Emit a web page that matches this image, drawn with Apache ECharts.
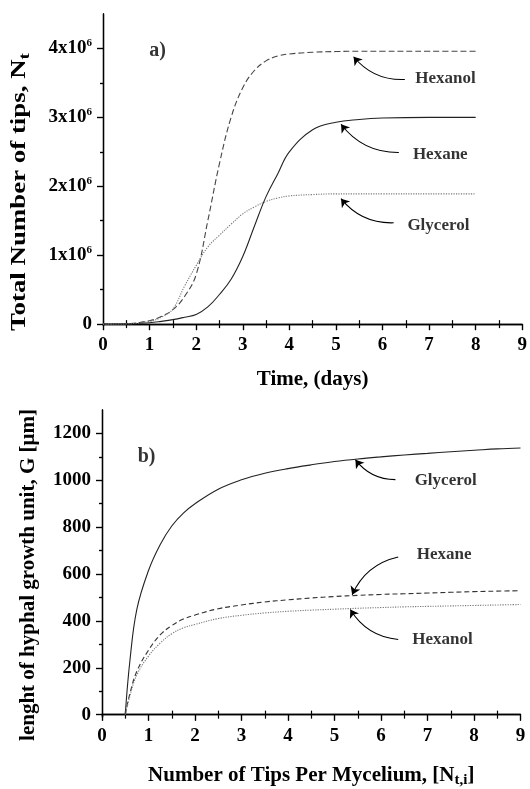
<!DOCTYPE html>
<html><head><meta charset="utf-8">
<script src="https://cdn.jsdelivr.net/npm/echarts@6/dist/echarts.min.js"></script>
<style>html,body{margin:0;padding:0;background:#fff}#c{width:530px;height:789px}</style>
</head><body><div id="c"></div>
<script>
// ---------- data (panel a: total number of tips, in units of 10^6) ----------
const timeDays  = [0,0.5,1,1.25,1.5,1.75,2,2.25,2.5,2.75,3,3.25,3.5,3.75,4,4.5,5,5.5,6,7,8];
const nHexanol  = [0,0.005,0.05,0.11,0.21,0.4,0.72,1.5,2.33,3.0,3.43,3.68,3.82,3.89,3.92,3.945,3.955,3.96,3.96,3.96,3.96];
const nHexane   = [0,0.003,0.02,0.04,0.065,0.1,0.14,0.25,0.43,0.65,0.98,1.42,1.85,2.18,2.5,2.82,2.93,2.97,2.99,3.0,3.0];
const nGlycerol = [0,0.004,0.04,0.1,0.22,0.55,0.85,1.12,1.29,1.45,1.6,1.7,1.78,1.83,1.86,1.88,1.89,1.89,1.89,1.89,1.89];
// ---------- data (panel b: length of hyphal growth unit, µm) ----------
const tipsPerMycelium = [0.5,0.6,0.75,1,1.25,1.5,1.75,2,2.5,3,3.5,4,4.5,5,5.5,6,6.5,7,7.5,8,8.5,9];
const gGlycerol = [0,230,450,615,725,805,860,900,962,1002,1030,1050,1066,1080,1091,1100,1108,1115,1122,1128,1134,1138];
const gHexane   = [0,90,185,275,340,380,408,425,452,468,481,490,498,504,509,513,516,519,522,525,527,529];
const gHexanol  = [0,80,170,250,305,345,370,385,410,424,434,441,446,450,454,457,460,462,464,466,468,470];
// ---------- ticks ----------
const xTicks = [0,1,2,3,4,5,6,7,8,9];
const xMinor = [0.5,1.5,2.5,3.5,4.5,5.5,6.5,7.5,8.5];
const yTopTicks = [0,1,2,3,4];
const yTopMinor = [0.5,1.5,2.5,3.5];
const yBotTicks = [0,200,400,600,800,1000,1200];
const yBotMinor = [100,300,500,700,900,1100];
// ---------- annotations (data coordinates) ----------
const notesA = [
  {name:'Hexanol',  at:[7.35,3.56], from:[6.48,3.55], to:[5.38,3.88]},
  {name:'Hexane',   at:[7.24,2.46], from:[6.35,2.49], to:[5.11,2.90]},
  {name:'Glycerol', at:[7.20,1.43], from:[6.24,1.47], to:[5.11,1.82]}
];
const notesB = [
  {name:'Glycerol', at:[7.39,999], from:[6.31,1003], to:[5.45,1088], bend:0.25},
  {name:'Hexane',   at:[7.36,681], from:[6.37,673],  to:[5.38,512],  bend:-0.25},
  {name:'Hexanol',  at:[7.32,321], from:[6.37,321],  to:[5.34,449],  bend:0.25}
];

const F = 'Liberation Serif';
const zip = (xs, ys) => xs.map((x,i)=>[x, ys[i]]);
const axLine = {show:true, lineStyle:{color:'#000', width:1.3}};
const tickStyle = {color:'#000', width:1.2};

function xAxes(grid){
  return [
    {gridIndex:grid, type:'value', position:'bottom', min:0, max:9, interval:1,
     axisLine:axLine, axisTick:{show:true, inside:false, length:6, lineStyle:tickStyle},
     axisLabel:{fontFamily:F, fontWeight:'bold', fontSize:19, color:'#000', margin:10},
     splitLine:{show:false}},
    {gridIndex:grid, type:'value', position:'bottom', min:0, max:9,
     axisLine:{show:false}, axisTick:{show:true, inside:true, length:4, customValues:xMinor, lineStyle:tickStyle},
     axisLabel:{show:false}, splitLine:{show:false}},
    {gridIndex:grid, type:'value', position:'top', min:0, max:9,
     axisLine:axLine, axisTick:{show:true, inside:true, length:6, customValues:xTicks, lineStyle:tickStyle},
     axisLabel:{show:false}, splitLine:{show:false}},
    {gridIndex:grid, type:'value', position:'top', min:0, max:9,
     axisLine:{show:false}, axisTick:{show:true, inside:true, length:4, customValues:xMinor, lineStyle:tickStyle},
     axisLabel:{show:false}, splitLine:{show:false}}
  ];
}
function yAxes(grid, min, max, major, minor, labelCfg){
  return [
    {gridIndex:grid, type:'value', position:'left', min, max,
     axisLine:axLine, axisTick:{show:true, inside:false, length:6, customValues:major, lineStyle:tickStyle},
     axisLabel:Object.assign({customValues:major, formatter:v=>String(v), fontFamily:F, fontWeight:'bold', fontSize:19, color:'#000', margin:11}, labelCfg||{}),
     splitLine:{show:false}},
    {gridIndex:grid, type:'value', position:'left', min, max,
     axisLine:{show:false}, axisTick:{show:true, inside:false, length:3, customValues:minor, lineStyle:tickStyle},
     axisLabel:{show:false}, splitLine:{show:false}},
    {gridIndex:grid, type:'value', position:'right', min, max,
     axisLine:axLine, axisTick:{show:true, inside:true, length:6, customValues:major, lineStyle:tickStyle},
     axisLabel:{show:false}, splitLine:{show:false}},
    {gridIndex:grid, type:'value', position:'right', min, max,
     axisLine:{show:false}, axisTick:{show:true, inside:true, length:3, customValues:minor, lineStyle:tickStyle},
     axisLabel:{show:false}, splitLine:{show:false}}
  ];
}

const xs = xAxes(0).concat(xAxes(1));
xs[0].name = 'Time, (days)';
xs[0].nameLocation = 'middle'; xs[0].nameGap = 44;
xs[0].nameTextStyle = {fontFamily:F, fontWeight:'bold', fontSize:21, color:'#000'};
xs[4].name = '{m|Number of Tips Per Mycelium, [N}{s|t,i}{m|]}';
xs[4].nameLocation = 'middle'; xs[4].nameGap = 46;
xs[4].nameTextStyle = {rich:{
  m:{fontFamily:F, fontWeight:'bold', fontSize:21, color:'#000'},
  s:{fontFamily:F, fontWeight:'bold', fontSize:15, color:'#000', verticalAlign:'bottom', padding:[10,0,0,0]}
}};

const ys = yAxes(0, -0.02, 4.5, yTopTicks, yTopMinor, {
  formatter: v => v === 0 ? '{n|0}' : '{n|' + v + 'x10}{s|6}',
  rich:{
    n:{fontFamily:F, fontWeight:'bold', fontSize:19, color:'#000'},
    s:{fontFamily:F, fontWeight:'bold', fontSize:11, color:'#000', verticalAlign:'top', padding:[0,0,10,0]}
  }
}).concat(yAxes(1, -10, 1300, yBotTicks, yBotMinor));

function lineSeries(x, y, xi, yi, color, type, w){
  return {type:'line', xAxisIndex:xi, yAxisIndex:yi, data:zip(x,y), showSymbol:false,
    smooth:0.4, silent:true,
    lineStyle:{color, width:w||1.1, type}};
}
function noteSeries(notes, xi, yi){
  return [
    {type:'scatter', xAxisIndex:xi, yAxisIndex:yi, symbolSize:0, silent:true,
     data:notes.map(n=>({value:n.at, name:n.name})),
     label:{show:true, position:'inside', formatter:p=>p.name, fontFamily:F, fontWeight:'bold', fontSize:17, color:'#000'}},
    {type:'lines', coordinateSystem:'cartesian2d', xAxisIndex:xi, yAxisIndex:yi, silent:true,
     symbol:['none','arrow'], symbolSize:[0,8],
     lineStyle:{color:'#000', opacity:1, width:1.1, curveness:0.25},
     data:notes.map(n=>({coords:[n.from, n.to], lineStyle:{color:'#000', opacity:1, curveness: n.bend===undefined?0.25:n.bend}}))}
  ];
}

const series = [
  lineSeries(timeDays, nHexanol, 0, 0, '#444', [6,3]),
  lineSeries(timeDays, nHexane, 0, 0, '#222', 'solid'),
  lineSeries(timeDays, nGlycerol, 0, 0, '#777', [1.2,1.3]),
  lineSeries(tipsPerMycelium, gGlycerol, 4, 4, '#222', 'solid'),
  lineSeries(tipsPerMycelium, gHexane, 4, 4, '#333', [5,3]),
  lineSeries(tipsPerMycelium, gHexanol, 4, 4, '#777', [1.2,1.3]),
  ...noteSeries(notesA, 0, 0),
  ...noteSeries(notesB, 4, 4),
  {type:'scatter', xAxisIndex:0, yAxisIndex:0, symbolSize:0, silent:true, data:[{value:[1.17,3.97], name:'a)'}],
   label:{show:true, position:'inside', formatter:p=>p.name, fontFamily:F, fontWeight:'bold', fontSize:20, color:'#000'}},
  {type:'scatter', xAxisIndex:4, yAxisIndex:4, symbolSize:0, silent:true, data:[{value:[0.96,1100], name:'b)'}],
   label:{show:true, position:'inside', formatter:p=>p.name, fontFamily:F, fontWeight:'bold', fontSize:20, color:'#000'}}
];

const chart = echarts.init(document.getElementById('c'), null, {renderer:'canvas'});
chart.setOption({
  backgroundColor:'#fff',
  animation:false,
  grid:[
    {left:103, top:14, right:6, height:311.5},
    {left:102, top:410, right:9.5, height:309.5}
  ],
  xAxis: xs,
  yAxis: ys,
  series,
  graphic:[
    {type:'text', x:20, y:192, rotation:Math.PI/2, scaleX:1.28, silent:true,
     style:{text:'{m|Total Number of tips, N}{s|t}', align:'center', verticalAlign:'middle',
       rich:{m:{fontFamily:F, fontWeight:'bold', fontSize:21, fill:'#000', color:'#000'},
             s:{fontFamily:F, fontWeight:'bold', fontSize:15, fill:'#000', color:'#000', padding:[10,0,0,0]}}}},
    {type:'text', x:29, y:575, rotation:Math.PI/2, silent:true,
     style:{text:'lenght of hyphal growth unit, G [μm]', align:'center', verticalAlign:'middle',
       font:'bold 21px "Liberation Serif"', fill:'#000'}}
  ]
});
</script>
</body></html>
